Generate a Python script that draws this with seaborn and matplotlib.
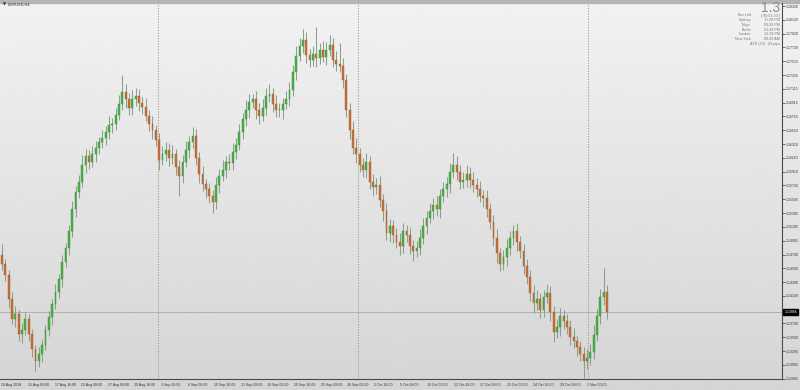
import numpy as np
import pandas as pd
import matplotlib
matplotlib.use("Agg")
import matplotlib.pyplot as plt
import seaborn as sns
from matplotlib.transforms import blended_transform_factory

# ---------------- data ----------------
symbol = "EURUSD,H4"
first_open = 1.1470
closes = [
    1.1456, 1.1441, 1.1405, 1.1376, 1.1383, 1.1354, 1.1361, 1.1376, 1.1354, 1.1332,
    1.1315, 1.1325, 1.1339, 1.1361, 1.1379, 1.1398, 1.1416, 1.1434, 1.1460, 1.1480,
    1.1504, 1.1536, 1.1562, 1.1576, 1.1601, 1.1613, 1.1605, 1.1616, 1.1626, 1.1634,
    1.1640, 1.1648, 1.1659, 1.1661, 1.1674, 1.1690, 1.1707, 1.1696, 1.1684, 1.1696,
    1.1701, 1.1691, 1.1685, 1.1672, 1.1661, 1.1652, 1.1637, 1.1608, 1.1616, 1.1623,
    1.1611, 1.1616, 1.1597, 1.1585, 1.1605, 1.1623, 1.1634, 1.1643, 1.1611, 1.1588,
    1.1573, 1.1565, 1.1556, 1.1546, 1.1571, 1.1585, 1.1594, 1.1605, 1.1603, 1.1620,
    1.1630, 1.1649, 1.1667, 1.1681, 1.1693, 1.1696, 1.1681, 1.1672, 1.1684, 1.1701,
    1.1704, 1.1690, 1.1681, 1.1681, 1.1690, 1.1696, 1.1710, 1.1736, 1.1760, 1.1774,
    1.1783, 1.1761, 1.1754, 1.1762, 1.1757, 1.1768, 1.1758, 1.1768, 1.1776, 1.1754,
    1.1748, 1.1745, 1.1725, 1.1681, 1.1652, 1.1626, 1.1616, 1.1600, 1.1594, 1.1605,
    1.1576, 1.1568, 1.1571, 1.1550, 1.1533, 1.1501, 1.1512, 1.1498, 1.1489, 1.1483,
    1.1504, 1.1498, 1.1483, 1.1475, 1.1480, 1.1495, 1.1512, 1.1524, 1.1533, 1.1542,
    1.1536, 1.1556, 1.1565, 1.1573, 1.1591, 1.1600, 1.1591, 1.1576, 1.1579, 1.1588,
    1.1579, 1.1571, 1.1565, 1.1556, 1.1553, 1.1536, 1.1518, 1.1495, 1.1472, 1.1457,
    1.1466, 1.1480, 1.1495, 1.1504, 1.1489, 1.1475, 1.1454, 1.1437, 1.1414, 1.1399,
    1.1405, 1.1390, 1.1408, 1.1414, 1.1387, 1.1358, 1.1364, 1.1381, 1.1373, 1.1364,
    1.1350, 1.1344, 1.1335, 1.1326, 1.1315, 1.1320, 1.1329, 1.1353, 1.1381, 1.1408,
    1.1416, 1.1386,
]
upper_wick_pips = [
    15, 8, 7, 10, 12, 6, 9, 11, 7, 8,
    7, 10, 8, 6, 9, 7, 11, 8, 10, 7,
    9, 12, 8, 10, 14, 11, 9, 12, 10, 8,
    11, 9, 13, 8, 10, 12, 25, 11, 9, 14,
    12, 10, 8, 13, 9, 11, 7, 10, 12, 11,
    9, 14, 8, 11, 10, 12, 9, 13, 10, 8,
    11, 7, 9, 8, 12, 10, 14, 9, 11, 13,
    10, 12, 9, 14, 11, 8, 12, 10, 13, 11,
    14, 9, 12, 10, 8, 13, 11, 10, 14, 12,
    16, 11, 9, 12, 40, 10, 13, 11, 14, 9,
    12, 30, 11, 8, 10, 12, 14, 9, 11, 13,
    8, 11, 10, 14, 9, 12, 10, 8, 11, 13,
    12, 9, 11, 8, 10, 13, 11, 9, 12, 10,
    14, 9, 11, 10, 12, 18, 13, 10, 11, 12,
    9, 11, 10, 12, 8, 11, 9, 10, 12, 8,
    11, 13, 10, 9, 12, 8, 11, 9, 10, 12,
    14, 9, 11, 13, 10, 8, 12, 11, 9, 10,
    11, 13, 8, 10, 9, 12, 11, 14, 10, 12,
    35, 10,
]
lower_wick_pips = [
    8, 10, 12, 7, 11, 9, 13, 8, 10, 11,
    15, 9, 11, 8, 10, 12, 7, 9, 11, 8,
    10, 8, 11, 9, 7, 12, 10, 8, 11, 9,
    8, 11, 9, 12, 10, 8, 9, 13, 10, 11,
    9, 12, 10, 8, 11, 13, 9, 14, 8, 10,
    12, 9, 11, 30, 10, 8, 12, 9, 11, 13,
    10, 12, 11, 15, 9, 11, 8, 12, 10, 9,
    11, 8, 10, 9, 12, 10, 13, 11, 8, 10,
    9, 12, 10, 11, 13, 8, 10, 9, 11, 8,
    10, 12, 11, 9, 13, 10, 8, 12, 9, 11,
    10, 9, 13, 11, 14, 10, 12, 9, 11, 13,
    10, 12, 9, 11, 14, 10, 12, 11, 9, 13,
    11, 10, 12, 14, 9, 11, 10, 12, 8, 11,
    10, 12, 9, 11, 13, 10, 12, 11, 9, 10,
    12, 10, 11, 9, 13, 11, 10, 12, 14, 11,
    9, 12, 10, 11, 13, 10, 12, 9, 11, 14,
    10, 12, 11, 9, 13, 15, 10, 12, 11, 9,
    12, 10, 13, 11, 24, 12, 10, 11, 9, 12,
    11, 10,
]
date_labels = [
    "10 Aug 2018", "15 Aug 00:00", "17 Aug 16:00", "22 Aug 08:00", "27 Aug 00:00",
    "29 Aug 16:00", "3 Sep 08:00", "6 Sep 00:00", "10 Sep 16:00", "13 Sep 08:00",
    "18 Sep 00:00", "20 Sep 16:00", "25 Sep 08:00", "28 Sep 00:00", "2 Oct 16:00",
    "5 Oct 08:00", "10 Oct 00:00", "12 Oct 16:00", "17 Oct 08:00", "22 Oct 00:00",
    "24 Oct 16:00", "29 Oct 08:00", "1 Nov 00:00",
]
price_labels = [
    "1.18320", "1.18120", "1.17920", "1.17720", "1.17515", "1.17315", "1.17115",
    "1.16915", "1.16715", "1.16510", "1.16310", "1.16110", "1.15910", "1.15710",
    "1.15505", "1.15305", "1.15105", "1.14905", "1.14700", "1.14500", "1.14300",
    "1.14100", "1.13700", "1.13500", "1.13295", "1.13095", "1.12895",
]
current_price = 1.13866
month_start_bars = [46.7, 106.5, 175.3]
spread_text = "1.3"
info_labels = ["Bar Left", "Sydney", "Tokyo", "Berlin", "London", "New York"]
info_values = ["[ 00:01:20 ]", "11:28 PM", "09:28 PM", "01:28 PM", "12:28 PM", "08:28 AM"]
atr_text = "ATR (20) : 56 pips"

# ---------------- build OHLC table ----------------
df = pd.DataFrame({"close": closes})
df["open"] = [first_open] + closes[:-1]
df["high"] = np.maximum(df["open"], df["close"]) + np.array(upper_wick_pips) * 1e-4
df["low"] = np.minimum(df["open"], df["close"]) - np.array(lower_wick_pips) * 1e-4
df["bar"] = np.arange(len(df))
df["bull"] = df["close"] >= df["open"]
df["body_bottom"] = np.minimum(df["open"], df["close"])
df["body_height"] = np.maximum((df["close"] - df["open"]).abs(), 0.00006)

# ---------------- figure ----------------
sns.set_theme(style="white")
plt.rcParams["font.family"] = ["Liberation Sans", "DejaVu Sans"]

W, H = 800, 390
fig = plt.figure(figsize=(W / 100, H / 100), dpi=100)

bg = fig.add_axes([0, 0, 1, 1], zorder=0)
grad = np.linspace(0.948, 0.835, 256).reshape(-1, 1)
bg.imshow(grad, aspect="auto", cmap="gray", vmin=0, vmax=1, extent=[0, 1, 0, 1])
bg.axis("off")
bg.add_patch(plt.Rectangle((0, 1 - 2.5 / H), 1, 2.5 / H, color="#b4b4b4", transform=bg.transAxes))

ax_right_px, ax_top_px, ax_bot_px = 782, 2.5, 379
ax = fig.add_axes([0, 1 - ax_bot_px / H, ax_right_px / W, (ax_bot_px - ax_top_px) / H], zorder=1)
ax.patch.set_alpha(0)

spacing_px = 3.343
ax.set_xlim(-2 / spacing_px, (ax_right_px - 2) / spacing_px)
ax.set_ylim(1.1289, 1.18372)

ax.axhline(current_price, color="#a9a9a9", lw=0.6, zorder=1)
for b in month_start_bars:
    ax.axvline(b, color="#9c9a6e", lw=0.7, ls=(0, (1.2, 1.6)), zorder=1)

# wicks and bodies
ax.vlines(df["bar"], df["low"], df["high"], color="#8aa08a", lw=0.75, zorder=2)
bull = df[df["bull"]]
bear = df[~df["bull"]]
ax.bar(bull["bar"], bull["body_height"], bottom=bull["body_bottom"], width=0.55,
       color="#4cb24c", edgecolor="#2f8f2f", lw=0.3, zorder=3)
ax.bar(bear["bar"], bear["body_height"], bottom=bear["body_bottom"], width=0.55,
       color="#c4703a", edgecolor="#a85a2a", lw=0.3, zorder=3)

for s in ["left", "top"]:
    ax.spines[s].set_visible(False)
for s in ["right", "bottom"]:
    ax.spines[s].set_visible(True)
    ax.spines[s].set_color("#4a4a4a")
    ax.spines[s].set_linewidth(0.8)

ax.yaxis.tick_right()
ax.set_yticks([float(p) for p in price_labels])
ax.set_yticklabels(price_labels)
ax.tick_params(axis="y", length=2, width=0.5, pad=0.8, labelsize=2.5, colors="#333333", direction="out")

date_ticks = np.arange(len(date_labels)) * (26.6 / spacing_px) - 0.15
ax.set_xticks(date_ticks)
ax.set_xticklabels(date_labels, ha="left")
ax.tick_params(axis="x", length=2, width=0.5, pad=1.0, labelsize=2.6, colors="#333333", direction="out")

tr = blended_transform_factory(ax.transAxes, ax.transData)
ax.text(1.003, current_price, f"{current_price:.5f}", transform=tr, fontsize=2.5, color="white",
        va="center", ha="left", zorder=5, clip_on=False,
        bbox=dict(boxstyle="square,pad=0.25", fc="black", ec="black"))

fig.text(3 / W, 1 - 4.5 / H, "\u25BC", fontsize=2.8, color="#222222", va="center", ha="left",
         zorder=3, family="DejaVu Sans")
fig.text(8 / W, 1 - 4.5 / H, symbol, fontsize=2.8, color="#333333", va="center", ha="left", zorder=3)

fig.text(780 / W, 1 - 8 / H, spread_text, fontsize=10, color="#8c8c8c", va="center", ha="right", zorder=3)
rows_y = [15.5, 20.3, 25, 29.6, 34.3, 39]
for lab, val, yy in zip(info_labels, info_values, rows_y):
    fig.text(751 / W, 1 - yy / H, lab, fontsize=2.7, color="#7a7a7a", va="center", ha="right", zorder=3)
    fig.text(780 / W, 1 - yy / H, val, fontsize=2.7, color="#7a7a7a", va="center", ha="right", zorder=3)
fig.text(780 / W, 1 - 43.7 / H, atr_text, fontsize=2.7, color="#7a7a7a", va="center", ha="right", zorder=3)

fig.savefig("out.png", dpi=100)
